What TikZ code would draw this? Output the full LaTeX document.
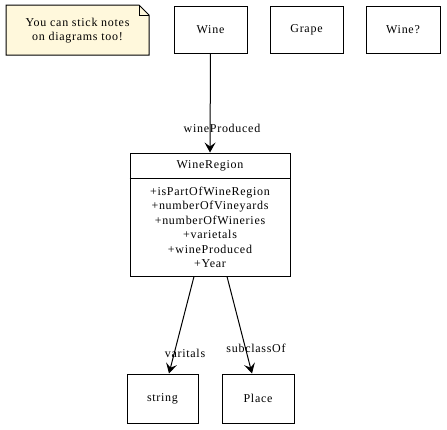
\documentclass[tikz,border=0pt]{standalone}
\usepackage{fontspec}
\setmainfont{Liberation Serif}[LetterSpace=6]
\usetikzlibrary{arrows.meta,calc}
\definecolor{notefill}{HTML}{FFF8DC}
\begin{document}
\begin{tikzpicture}[x=1pt,y=-1pt,
  txt/.style={font=\fontsize{12}{14.5}\selectfont},
  box/.style={draw,line width=1pt,minimum width=#1,inner sep=0pt,txt},
  lbl/.style={inner sep=0pt,txt},
  arr/.style={line width=1pt,-{Stealth[length=10pt,width=11pt,inset=4pt]}}]
\useasboundingbox (0,0) rectangle (447,429);
% note
\draw[line width=1pt,fill=notefill] (6,5) -- (139,5) -- (149,15) -- (149,55) -- (6,55) -- cycle;
\draw[line width=1pt] (139,5) -- (139,15) -- (149,15);
\node[lbl,align=center] (note) at (77.5,30.5) {You can stick notes\\on diagrams too!};
% top boxes
\node[box=73pt,minimum height=47pt] (wine) at (210.5,29.5) {Wine};
\node[box=73pt,minimum height=47pt] (grape) at (306.5,29.5) {Grape};
\node[box=74pt,minimum height=47pt] (wineq) at (403,29.5) {Wine?};
% WineRegion
\node[box=160pt,minimum height=123pt] (wr) at (210,214.5) {};
\draw[line width=1pt] (wr.west |- 0,178) -- (wr.east |- 0,178);
\node[lbl] (wrtitle) at (210,165.5) {WineRegion};
\node[lbl,align=center] (wrattr) at (210,227.5) {+isPartOfWineRegion\\+numberOfVineyards\\+numberOfWineries\\+varietals\\+wineProduced\\+Year};
% bottom boxes
\node[box=71pt,minimum height=49pt] (string) at (162.5,398.5) {string};
\node[box=72pt,minimum height=49pt] (place) at (258,398.5) {Place};
% connectors
\draw[arr] (wine.south) -- (wr.north);
\node[lbl] (l1) at (222,128.5) {wineProduced};
\draw[arr] ($(wr.south)+(-16,0)$) -- ($(string.north)+(6.5,0)$);
\node[lbl] (l2) at (185,353.5) {varitals};
\draw[arr] ($(wr.south)+(17,0)$) -- ($(place.north)+(-6,0)$);
\node[lbl] (l3) at (256,348.5) {subclassOf};
\end{tikzpicture}
\end{document}
